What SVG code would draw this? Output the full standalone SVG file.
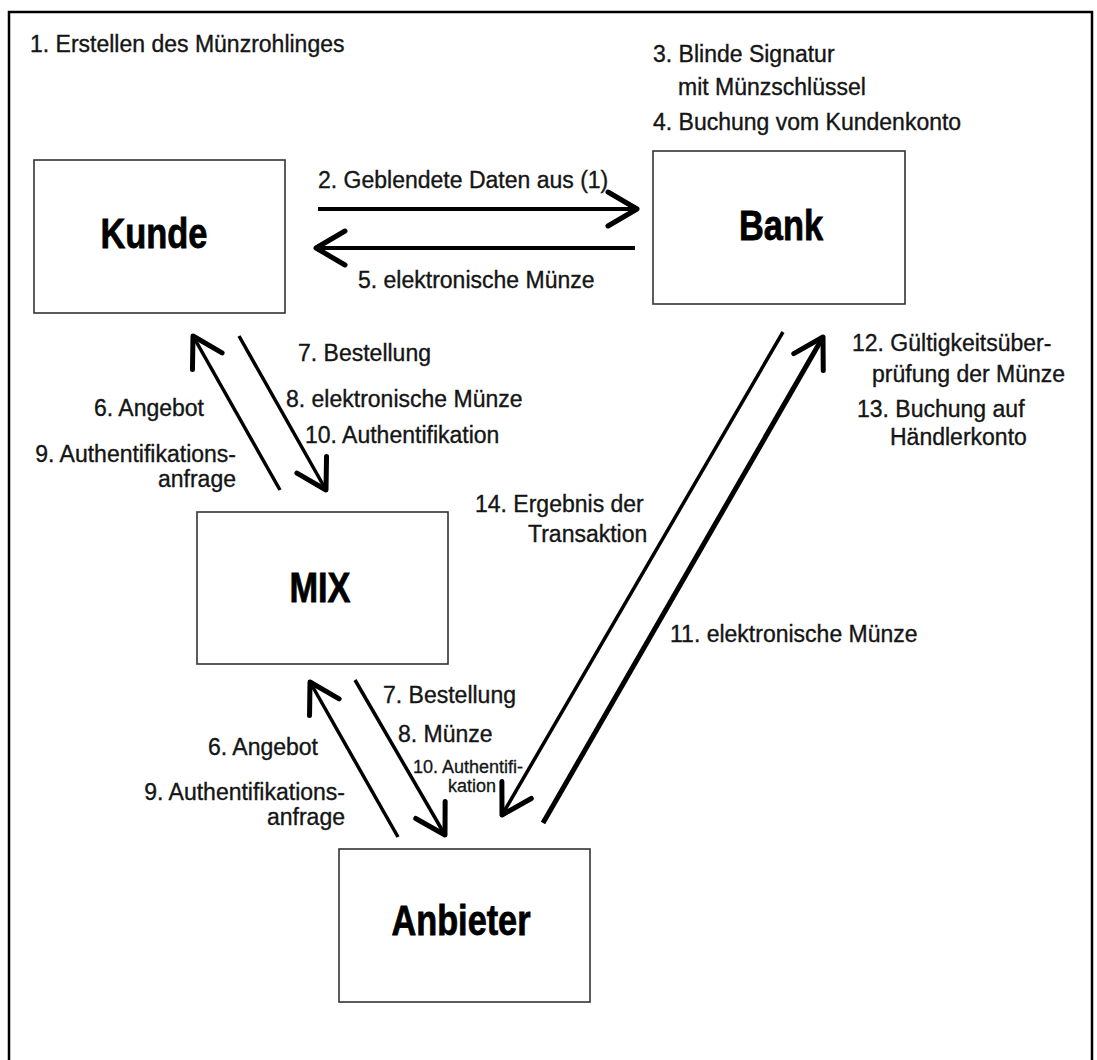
<svg xmlns="http://www.w3.org/2000/svg" width="1097" height="1060" viewBox="0 0 1097 1060">
<style>
.lbl{font-family:"Liberation Sans",Arial,sans-serif;font-size:23px;fill:#151515;stroke:#151515;stroke-width:0.35}
.sm{font-family:"Liberation Sans",Arial,sans-serif;font-size:18px;fill:#151515;stroke:#151515;stroke-width:0.3}
.node rect{fill:#fff;stroke:#333;stroke-width:1.6}
.node text{font-family:"Liberation Sans",Arial,sans-serif;font-weight:bold;font-size:42px;fill:#000;stroke:#000;stroke-width:0.8;text-anchor:middle}
.cn{fill:none;stroke:#000;stroke-width:3.5;marker-end:url(#ah)}
</style>
<defs>
<marker id="ah" markerUnits="userSpaceOnUse" markerWidth="70" markerHeight="70" viewBox="-35 -35 70 70" refX="0" refY="0" orient="auto" overflow="visible">
<path d="M-29,-17 L0,0 L-29,17" fill="none" stroke="#000" stroke-width="5" stroke-linecap="round" stroke-linejoin="round"/>
</marker>
</defs>
<rect width="1097" height="1060" fill="#fff"/>
<rect x="9" y="12" width="1083" height="1060" fill="none" stroke="#000" stroke-width="2.5"/>

<g id="kunde" class="node"><rect x="34" y="160" width="251" height="153"/><text x="154" y="248" textLength="107" lengthAdjust="spacingAndGlyphs">Kunde</text></g>
<g id="bank" class="node"><rect x="653" y="151" width="252" height="153"/><text x="781" y="240" textLength="84" lengthAdjust="spacingAndGlyphs">Bank</text></g>
<g id="mix" class="node"><rect x="197" y="512" width="251" height="152"/><text x="320" y="602" textLength="61" lengthAdjust="spacingAndGlyphs">MIX</text></g>
<g id="anbieter" class="node"><rect x="339" y="849" width="251" height="153"/><text x="461" y="935" textLength="139" lengthAdjust="spacingAndGlyphs">Anbieter</text></g>

<g id="connectors">
<path class="cn" style="stroke-width:4" d="M318,209 L637,209"/>
<path class="cn" style="stroke-width:4" d="M635,248 L316,248"/>
<path class="cn" d="M280,490 L193,336"/>
<path class="cn" d="M239,336 L326,490"/>
<path class="cn" d="M398,837 L310,682"/>
<path class="cn" d="M355,680 L445,835"/>
<path class="cn" d="M783,332 L502,815"/>
<path class="cn" style="stroke-width:5" d="M543,823 L823,337"/>
</g>

<g id="labels">
<text class="lbl" x="30" y="52">1. Erstellen des Münzrohlinges</text>
<text class="lbl" x="653" y="62">3. Blinde Signatur</text>
<text class="lbl" x="678" y="95">mit Münzschlüssel</text>
<text class="lbl" x="653" y="130">4. Buchung vom Kundenkonto</text>
<text class="lbl" x="318" y="188">2. Geblendete Daten aus (1)</text>
<text class="lbl" x="358" y="288">5. elektronische Münze</text>

<text class="lbl" x="298" y="361">7. Bestellung</text>
<text class="lbl" x="286" y="407">8. elektronische Münze</text>
<text class="lbl" x="305" y="443">10. Authentifikation</text>
<text class="lbl" x="204" y="416" text-anchor="end">6. Angebot</text>
<text class="lbl" x="236" y="462" text-anchor="end">9. Authentifikations-</text>
<text class="lbl" x="236" y="487" text-anchor="end">anfrage</text>

<text class="lbl" x="852" y="351">12. Gültigkeitsüber-</text>
<text class="lbl" x="872" y="382">prüfung der Münze</text>
<text class="lbl" x="857" y="417">13. Buchung auf</text>
<text class="lbl" x="890" y="445">Händlerkonto</text>

<text class="lbl" x="475" y="512">14. Ergebnis der</text>
<text class="lbl" x="528" y="542">Transaktion</text>
<text class="lbl" x="670" y="642">11. elektronische Münze</text>

<text class="lbl" x="383" y="703">7. Bestellung</text>
<text class="lbl" x="398" y="742">8. Münze</text>
<text class="sm" x="413" y="773">10. Authentifi-</text>
<text class="sm" x="448" y="792">kation</text>
<text class="lbl" x="318" y="755" text-anchor="end">6. Angebot</text>
<text class="lbl" x="345" y="800" text-anchor="end">9. Authentifikations-</text>
<text class="lbl" x="345" y="825" text-anchor="end">anfrage</text>
</g>
</svg>
